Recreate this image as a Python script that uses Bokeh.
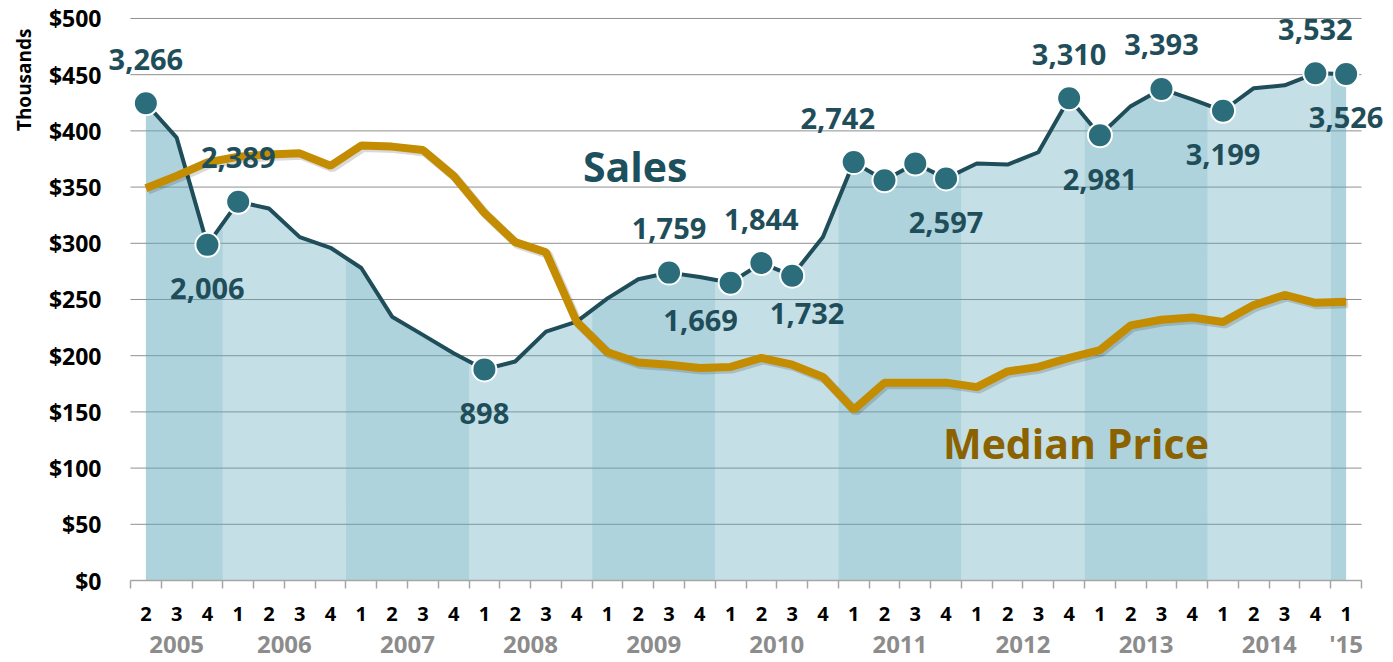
import math
from bokeh.plotting import figure
from bokeh.models import (Range1d, FixedTicker, ColumnDataSource, LabelSet, Label, Title,
                          NumeralTickFormatter, LinearAxis)
from bokeh.core.properties import value
from bokeh.embed import file_html
from bokeh.resources import INLINE

# ---------------- data ----------------
years = [2005] * 3 + [y for y in range(2006, 2015) for _ in range(4)] + [2015]
quarters = [2, 3, 4] + [1, 2, 3, 4] * 9 + [1]
year_labels = ["2005", "2006", "2007", "2008", "2009", "2010", "2011", "2012", "2013", "2014", "'15"]

# existing home sales (units), labelled points are exact
sales = [3266, 2960, 2006, 2389, 2330, 2075, 1980, 1800, 1367, 1205,
         1042, 898, 968, 1234, 1323, 1530, 1700, 1759, 1720, 1669,
         1844, 1732, 2075, 2742, 2580, 2730, 2597, 2730, 2720, 2830,
         3310, 2981, 3240, 3393, 3300, 3199, 3400, 3425, 3532, 3526]

# median price ($ thousands)
median_price = [349, 360, 372, 377, 379, 380, 369, 387, 386, 383,
                360, 327, 301, 292, 230, 203, 194, 192, 189, 190,
                198, 192, 181, 152, 176, 176, 176, 172, 186, 190,
                198, 205, 227, 232, 234, 230, 245, 254, 247, 248]

y_ticks = list(range(0, 501, 50))
marker_idx = [0, 2, 3, 11, 17, 19, 20, 21, 23, 24, 25, 26, 30, 31, 33, 35, 38, 39]
label_idx = [0, 2, 3, 11, 17, 19, 20, 21, 23, 26, 30, 31, 33, 35, 38, 39]

# ---------------- styling / placement ----------------
label_side = ["above", "below", "above", "below", "above", "below", "above", "below",
              "above", "below", "above", "below", "above", "below", "above", "below"]
label_dx = {19: -30, 21: 15, 23: -16}
label_dy = {19: 38, 21: 38}

FONT = "Open Sans"
SALES_AT_0, SALES_AT_500 = -980, 4020   # hidden sales scale matching $0 and $500 of the price axis
BAND = "#5ea7ba"
n = len(sales)
xs = list(range(n))

W, H = 1393, 662
FRAME_L, FRAME_R = 102, 1393          # canvas px of the frame
PLOT_L, PLOT_R = 129, 1361            # where the category band starts/ends
PLOT_T, PLOT_B = 18, 581              # y of $500 and $0
px_per_q = (PLOT_R - PLOT_L) / n
px_per_y = (PLOT_B - PLOT_T) / 500.0
x0 = -0.5 - (PLOT_L - FRAME_L) / px_per_q
x1 = n - 0.5 + (FRAME_R - PLOT_R) / px_per_q
y1 = 500 + PLOT_T / px_per_y
s1 = SALES_AT_0 + (SALES_AT_500 - SALES_AT_0) * y1 / 500.0

p = figure(width=W, height=H, title=None,
           x_range=Range1d(x0, x1), y_range=Range1d(0, y1),
           output_backend="svg", toolbar_location=None,
           min_border_left=FRAME_L, min_border_right=0, min_border_top=0,
           min_border_bottom=H - PLOT_B)
p.outline_line_color = None
p.background_fill_color = "white"
dx = 2 / px_per_q
dy = 2 / px_per_y
p.extra_y_ranges = {"sales": Range1d(SALES_AT_0, s1), "shadow": Range1d(dy, y1 + dy)}
p.extra_x_ranges = {"shadow": Range1d(x0 - dx, x1 - dx)}

# y axis
p.yaxis.ticker = FixedTicker(ticks=y_ticks)
p.yaxis.formatter = NumeralTickFormatter(format="$0")
p.yaxis.axis_line_color = None
p.yaxis.major_tick_line_color = None
p.yaxis.minor_tick_line_color = None
p.yaxis.major_tick_out = 0
p.yaxis.major_label_standoff = 2
p.yaxis.major_label_text_font = FONT
p.yaxis.major_label_text_font_style = "bold"
p.yaxis.major_label_text_font_size = "23px"
p.yaxis.major_label_text_color = "#000000"
p.grid.visible = False

p.add_layout(Title(text="Thousands", align="right", offset=28, standoff=17,
                   text_font=FONT, text_font_style="bold", text_font_size="19px",
                   text_color="#000000"), "left")

# x axis (quarters)
p.xaxis.bounds = (-0.5, n - 0.5)
p.xaxis.ticker = FixedTicker(ticks=xs, minor_ticks=[i - 0.5 for i in range(n + 1)])
p.xaxis.major_label_overrides = {i: str(q) for i, q in enumerate(quarters)}
p.xaxis.major_tick_line_color = None
p.xaxis.major_tick_out = 8
p.xaxis.major_tick_in = 0
p.xaxis.minor_tick_out = 8
p.xaxis.minor_tick_in = 0
p.xaxis.minor_tick_line_color = "#a6a6a6"
p.xaxis.minor_tick_line_width = 1.5
p.xaxis.axis_line_color = "#a6a6a6"
p.xaxis.axis_line_width = 1.5
p.xaxis.major_label_standoff = 18
p.xaxis.major_label_text_font = FONT
p.xaxis.major_label_text_font_style = "bold"
p.xaxis.major_label_text_font_size = "20px"
p.xaxis.major_label_text_color = "#000000"

# year groups
unique_years = []
for y in years:
    if y not in unique_years:
        unique_years.append(y)
group_ids = [[i for i in xs if years[i] == yr] for yr in unique_years]
group_centers = [sum(ids) / len(ids) for ids in group_ids]
group_centers = [int(c) if c == int(c) else c for c in group_centers]

year_axis = LinearAxis(ticker=FixedTicker(ticks=group_centers),
                       major_label_overrides={c: t for c, t in zip(group_centers, year_labels)})
year_axis.axis_line_color = None
year_axis.major_tick_line_color = None
year_axis.minor_tick_line_color = None
year_axis.major_tick_out = 0
year_axis.major_label_standoff = 3
year_axis.major_label_text_font = FONT
year_axis.major_label_text_font_style = "bold"
year_axis.major_label_text_font_size = "24px"
year_axis.major_label_text_color = "#8c8c8c"
p.add_layout(year_axis, "below")

# horizontal grid lines over the category span
p.segment(x0=[-0.5] * len(y_ticks), x1=[n - 0.5] * len(y_ticks), y0=y_ticks, y1=y_ticks,
          line_color="#8f8f8f", line_width=1)

# shaded area under sales, alternating per year
for gi, ids in enumerate(group_ids):
    i0, i1 = ids[0], ids[-1]
    bx, by = [], []
    if i0 > 0:
        bx.append(i0 - 0.5)
        by.append((sales[i0 - 1] + sales[i0]) / 2)
    for i in ids:
        bx.append(i)
        by.append(sales[i])
    if i1 < n - 1:
        bx.append(i1 + 0.5)
        by.append((sales[i1] + sales[i1 + 1]) / 2)
    p.varea(x=bx, y1=[SALES_AT_0] * len(bx), y2=by, y_range_name="sales",
            fill_color=BAND, fill_alpha=0.5 if gi % 2 == 0 else 0.36)

# sales line + markers
p.line(xs, sales, y_range_name="sales", line_color="#1f4e5a", line_width=4)
p.scatter([xs[i] for i in marker_idx], [sales[i] for i in marker_idx], y_range_name="sales",
          size=24, fill_color="#2b6d7b", line_color="white", line_width=2)

# median price line with soft shadow
p.line(xs, median_price, x_range_name="shadow", y_range_name="shadow",
       line_color="black", line_alpha=0.15, line_width=9)
p.line(xs, median_price, line_color="#c48c00", line_width=8)

# data labels
lab_src = ColumnDataSource(dict(
    x=[xs[i] for i in label_idx],
    y=[sales[i] for i in label_idx],
    text=[f"{sales[i]:,}" for i in label_idx],
    xo=[label_dx.get(i, 0) for i in label_idx],
    yo=[(label_dy.get(i, 44)) * (1 if s == "above" else -1) for i, s in zip(label_idx, label_side)],
))
p.add_layout(LabelSet(x="x", y="y", text="text", x_offset="xo", y_offset="yo", source=lab_src,
                      y_range_name="sales", text_align=value("center"), text_baseline=value("middle"),
                      text_font=value(FONT), text_font_style=value("bold"),
                      text_font_size=value("29px"), text_color=value("#1f4e5a")))

# series names
p.add_layout(Label(x=15.9, y=369, text="Sales", text_align="center", text_baseline="middle",
                   text_font=FONT, text_font_style="bold", text_font_size="41px",
                   text_color="#1d4f5c"))
p.add_layout(Label(x=25.9, y=122, text="Median Price", text_align="left", text_baseline="middle",
                   text_font=FONT, text_font_style="bold", text_font_size="41px",
                   text_color="#8b6200"))

open("out.html", "w").write(file_html(p, INLINE))
